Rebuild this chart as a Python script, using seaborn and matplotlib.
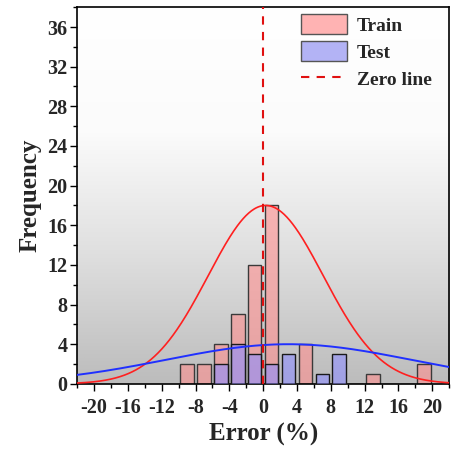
import numpy as np
import pandas as pd
import matplotlib
matplotlib.use("Agg")
import matplotlib.pyplot as plt
import seaborn as sns
from matplotlib.patches import Patch
from matplotlib.lines import Line2D

# ---- data ----
train_centers = [-9, -7, -5, -3, -1, 1, 5, 13, 19]
train_counts = [2, 2, 4, 7, 12, 18, 4, 1, 2]
test_centers = [-5, -3, -1, 1, 3, 7, 9]
test_counts = [2, 4, 3, 2, 3, 1, 3]
bin_edges = list(range(-10, 22, 2))

# fitted normal curves (mean, sigma, peak height)
train_fit = (0.3, 6.8, 18.0)
test_fit = (3.0, 14.5, 4.0)

xticks = [-20, -16, -12, -8, -4, 0, 4, 8, 12, 16, 20]
yticks = [0, 4, 8, 12, 16, 20, 24, 28, 32, 36]

sns.set_theme(style="ticks")
plt.rcParams['font.family'] = ['Liberation Serif', 'DejaVu Serif']
plt.rcParams['font.weight'] = 'bold'
plt.rcParams['axes.unicode_minus'] = False

fig = plt.figure(figsize=(4.51, 4.50), dpi=100)
ax = fig.add_axes([0.171, 0.147, 0.825, 0.837])

# gradient background
grad = np.linspace(0, 1, 256).reshape(-1, 1)
cmap = matplotlib.colors.LinearSegmentedColormap.from_list("bg", ["#bcbcbc", "#dedede", "#fbfbfb", "#ffffff"])
ax.imshow(grad, extent=[0, 1, 0, 1], transform=ax.transAxes, origin="lower",
          cmap=cmap, aspect="auto", zorder=0)

df_train = pd.DataFrame({"x": train_centers, "w": train_counts})
df_test = pd.DataFrame({"x": test_centers, "w": test_counts})

sns.histplot(data=df_train, x="x", weights="w", bins=bin_edges, shrink=0.8,
             color="#ff8f8f", alpha=0.6, edgecolor="#3a3a3a", linewidth=1.0, ax=ax, zorder=2)
sns.histplot(data=df_test, x="x", weights="w", bins=bin_edges, shrink=0.8,
             color="#8f8fff", alpha=0.6, edgecolor="#1a1a1a", linewidth=1.0, ax=ax, zorder=3)

xs = np.linspace(-22, 22, 400)
def gauss(x, p):
    m, s, h = p
    return h * np.exp(-(x - m) ** 2 / (2 * s ** 2))

sns.lineplot(x=xs, y=gauss(xs, train_fit), color="#ff2020", lw=1.2, ax=ax, zorder=4)
sns.lineplot(x=xs, y=gauss(xs, test_fit), color="#2030ff", lw=1.4, ax=ax, zorder=4)

ax.axvline(0, color="#e01010", lw=1.5, ls=(0, (4, 3.5)), zorder=5)

ax.set_xlim(-22, 22)
ax.set_ylim(0, 38)
ax.set_xticks(xticks)
ax.set_yticks(yticks)
ax.set_xticks(np.arange(-22, 23, 2), minor=True)
ax.set_yticks(np.arange(0, 39, 2), minor=True)
ax.tick_params(axis="both", which="major", direction="out", length=5, width=1, labelsize=14.5, color="black")
ax.tick_params(axis="x", which="major", pad=5)
ax.tick_params(axis="y", which="major", pad=2)
ax.tick_params(axis="both", which="minor", direction="out", length=3, width=1, color="black")
for lab in ax.get_xticklabels() + ax.get_yticklabels():
    lab.set_fontweight("bold")

ax.set_xlabel("Error (%)", fontsize=18, fontweight="bold", labelpad=4)
ax.set_ylabel("Frequency", fontsize=18, fontweight="bold", labelpad=4)

for sp in ax.spines.values():
    sp.set_visible(True)
    sp.set_color("black")
    sp.set_linewidth(1.2)

handles = [Patch(facecolor="#ffb3b3", edgecolor="#555555"),
           Patch(facecolor="#b3b3f5", edgecolor="#555555"),
           Line2D([0], [0], color="#e01010", lw=1.5, ls=(0, (4, 3.5)))]
leg = ax.legend(handles, ["Train", "Test", "Zero line"], loc="upper right",
                frameon=False, prop={"family": "Liberation Serif", "weight": "bold", "size": 14},
                handlelength=2.4, handleheight=1.2, handletextpad=0.5, labelspacing=0.35,
                borderaxespad=0.3, bbox_to_anchor=(0.99, 1.018))

fig.savefig("out.png", dpi=100)
